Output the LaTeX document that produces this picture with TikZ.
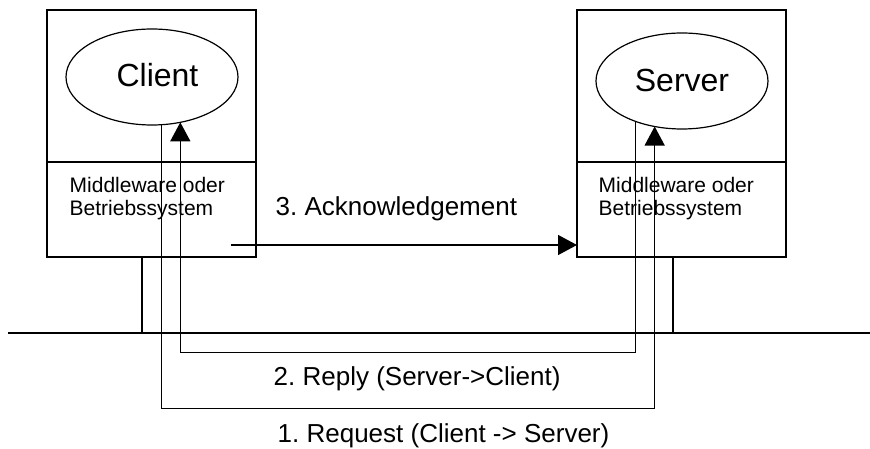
\documentclass[tikz,border=0pt]{standalone}
\usepackage{fontspec}
\setmainfont{Liberation Sans}
\usetikzlibrary{shapes.geometric,arrows.meta,calc}
\frenchspacing
\begin{document}
\begin{tikzpicture}[x=1pt,y=-1pt, line width=1.4pt,
  sysbox/.style={draw, rectangle, inner sep=0, outer sep=0, anchor=north west, minimum width=209pt, minimum height=247pt},
  proc/.style={draw, ellipse, inner sep=0, outer sep=0, minimum width=172pt, minimum height=96pt, line width=1.2pt},
  lbl/.style={inner sep=0, anchor=base west, font=\fontsize{26}{30}\selectfont},
  mw/.style={inner sep=0, anchor=base west, font=\fontsize{21}{24}\selectfont},
  big/.style={inner sep=0, anchor=base, font=\fontsize{32}{36}\selectfont},
  thin/.style={line width=1.2pt},
  tip/.style={-{Triangle[length=19pt,width=20pt]}}]
\useasboundingbox (0,0) rectangle (870,449);

% boxes
\node[sysbox] (cbox) at (47,10) {};
\node[sysbox] (sbox) at (577,10) {};
\draw ($(cbox.north west)+(0,152)$) -- ($(cbox.north east)+(0,152)$);
\draw ($(sbox.north west)+(0,152)$) -- ($(sbox.north east)+(0,152)$);

% ellipses
\node[proc] (client) at (152,77) {};
\node[proc] (server) at (682,81) {};
\node[big] (clientlbl) at (157.5,87) {Client};
\node[big] (serverlbl) at (682,92) {Server};

% middleware texts
\node[mw] (cmw1) at (69,193) {Middleware oder};
\node[mw] (cmw2) at (69,216) {Betriebssystem};
\node[mw] (smw1) at (598,193) {Middleware oder};
\node[mw] (smw2) at (598,216) {Betriebssystem};

% network
\coordinate (netL) at (8,333);
\coordinate (netR) at (870,333);
\draw[thin] (netL) -- (netR);
\draw[thin] ($(cbox.south west)+(95,0)$) -- ($(cbox.south west)+(95,76)$);
\draw[thin] ($(sbox.south west)+(96,0)$) -- ($(sbox.south west)+(96,76)$);

% 1. request
\draw[thin, tip] (client.-79.3) -- ++(0,284) -| (server.-121.7);
% 2. reply
\draw[tip] (server.-139.5) -- ++(0,231) -| (client.-58.3);
% 3. acknowledgement
\coordinate (ackstart) at (231,245);
\draw[tip] (ackstart) -- (sbox.west |- ackstart);

% labels
\node[lbl] (acklbl) at (275,215) {3. Acknowledgement};
\node[lbl] (replbl) at (273,385) {2. Reply (Server->Client)};
\node[lbl] (reqlbl) at (277,442) {1. Request (Client -> Server)};
\end{tikzpicture}
\end{document}
